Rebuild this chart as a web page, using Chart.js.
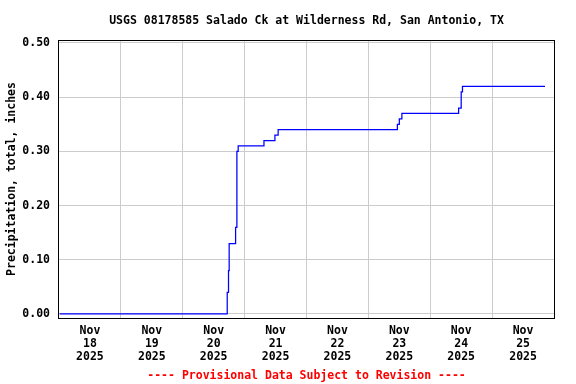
<!DOCTYPE html>
<html><head><meta charset="utf-8">
<script src="https://cdn.jsdelivr.net/npm/chart.js@4/dist/chart.umd.min.js"></script>
<style>html,body{margin:0;padding:0;background:#fff;}</style>
</head><body>
<canvas id="c" width="576" height="384"></canvas>
<script>
const titleText = 'USGS 08178585 Salado Ck at Wilderness Rd, San Antonio, TX';
const footerText = '---- Provisional Data Subject to Revision ----';
const yAxisTitle = 'Precipitation, total, inches';
// hours since Nov 18 2025 00:00
const hoursSinceStart = [0.25, 65.25, 65.75, 66.0, 68.5, 69.0, 69.5, 79.5, 83.75, 85.0, 131.25, 132.0, 133.0, 155.0, 156.0, 156.5, 188.5];
const precipInches   = [0.00, 0.04, 0.08, 0.13, 0.16, 0.30, 0.31, 0.32, 0.33, 0.34, 0.35, 0.36, 0.37, 0.38, 0.41, 0.42, 0.42];
const yTickValues = [0, 0.1, 0.2, 0.3, 0.4, 0.5];
const dayGridHours = [24, 48, 72, 96, 120, 144, 168];
const dayLabelHours = [12, 36, 60, 84, 108, 132, 156, 180];
const dayLabels = [['Nov','18','2025'],['Nov','19','2025'],['Nov','20','2025'],['Nov','21','2025'],['Nov','22','2025'],['Nov','23','2025'],['Nov','24','2025'],['Nov','25','2025']];

const FONT = 'DejaVu Sans Mono';
const tickFont = {family: FONT, size: 11.5, weight: 'bold', lineHeight: 1.1};
const xTickFont = {family: FONT, size: 11.5, weight: 'bold', lineHeight: 1.13};

const decor = {
  id: 'decor',
  afterDraw(chart) {
    const ctx = chart.ctx, a = chart.chartArea;
    ctx.save();
    ctx.strokeStyle = '#000';
    ctx.lineWidth = 1;
    ctx.strokeRect(Math.round(a.left) - 0.5, Math.round(a.top) + 0.5, Math.round(a.right - a.left) + 1, Math.round(a.bottom - a.top));
    const cx = (a.left + a.right) / 2;
    ctx.font = 'bold 11.5px "' + FONT + '"';
    ctx.textAlign = 'center';
    ctx.textBaseline = 'middle';
    ctx.fillStyle = '#000';
    ctx.fillText(titleText, cx, 21);
    ctx.fillStyle = '#ff0000';
    ctx.fillText(footerText, cx, 376);
    ctx.restore();
  }
};

new Chart(document.getElementById('c'), {
  type: 'line',
  data: {
    datasets: [{
      data: hoursSinceStart.map((h, i) => ({x: h, y: precipInches[i]})),
      borderColor: '#0000ff',
      borderWidth: 1.25,
      pointRadius: 0,
      stepped: true,
      fill: false,
      xAxisID: 'x',
      yAxisID: 'y'
    }]
  },
  options: {
    responsive: false,
    devicePixelRatio: 1,
    animation: false,
    layout: {padding: {top: 40, right: 22, left: 0, bottom: 0}},
    plugins: {legend: {display: false}, title: {display: false}, tooltip: {enabled: false}},
    scales: {
      x: {
        type: 'linear', position: 'bottom', min: 0, max: 192,
        afterBuildTicks: s => { s.ticks = dayGridHours.map(v => ({value: v})); },
        afterFit: s => { s.height = 0; },
        grid: {color: '#cccccc', lineWidth: 1, drawTicks: false},
        border: {display: false},
        ticks: {display: false}
      },
      x2: {
        type: 'linear', position: 'bottom', min: 0, max: 192,
        afterBuildTicks: s => { s.ticks = dayLabelHours.map(v => ({value: v})); },
        afterFit: s => { s.height = 66; },
        grid: {display: false, drawTicks: false},
        border: {display: false},
        ticks: {
          autoSkip: false, maxRotation: 0, minRotation: 0, padding: 7,
          color: '#000', font: xTickFont,
          callback: (v, i) => dayLabels[i]
        }
      },
      y: {
        type: 'linear', min: -0.0074, max: 0.5055,
        afterBuildTicks: s => { s.ticks = yTickValues.map(v => ({value: v})); },
        afterFit: s => { s.width = 59; },
        grid: {color: '#cccccc', lineWidth: 1, drawTicks: false},
        border: {display: false},
        ticks: {padding: 9, color: '#000', font: tickFont, callback: v => Number(v).toFixed(2)},
        title: {display: true, text: yAxisTitle, color: '#000', font: tickFont, padding: {top: 6, bottom: 0}}
      }
    }
  },
  plugins: [decor]
});
</script>
</body></html>
